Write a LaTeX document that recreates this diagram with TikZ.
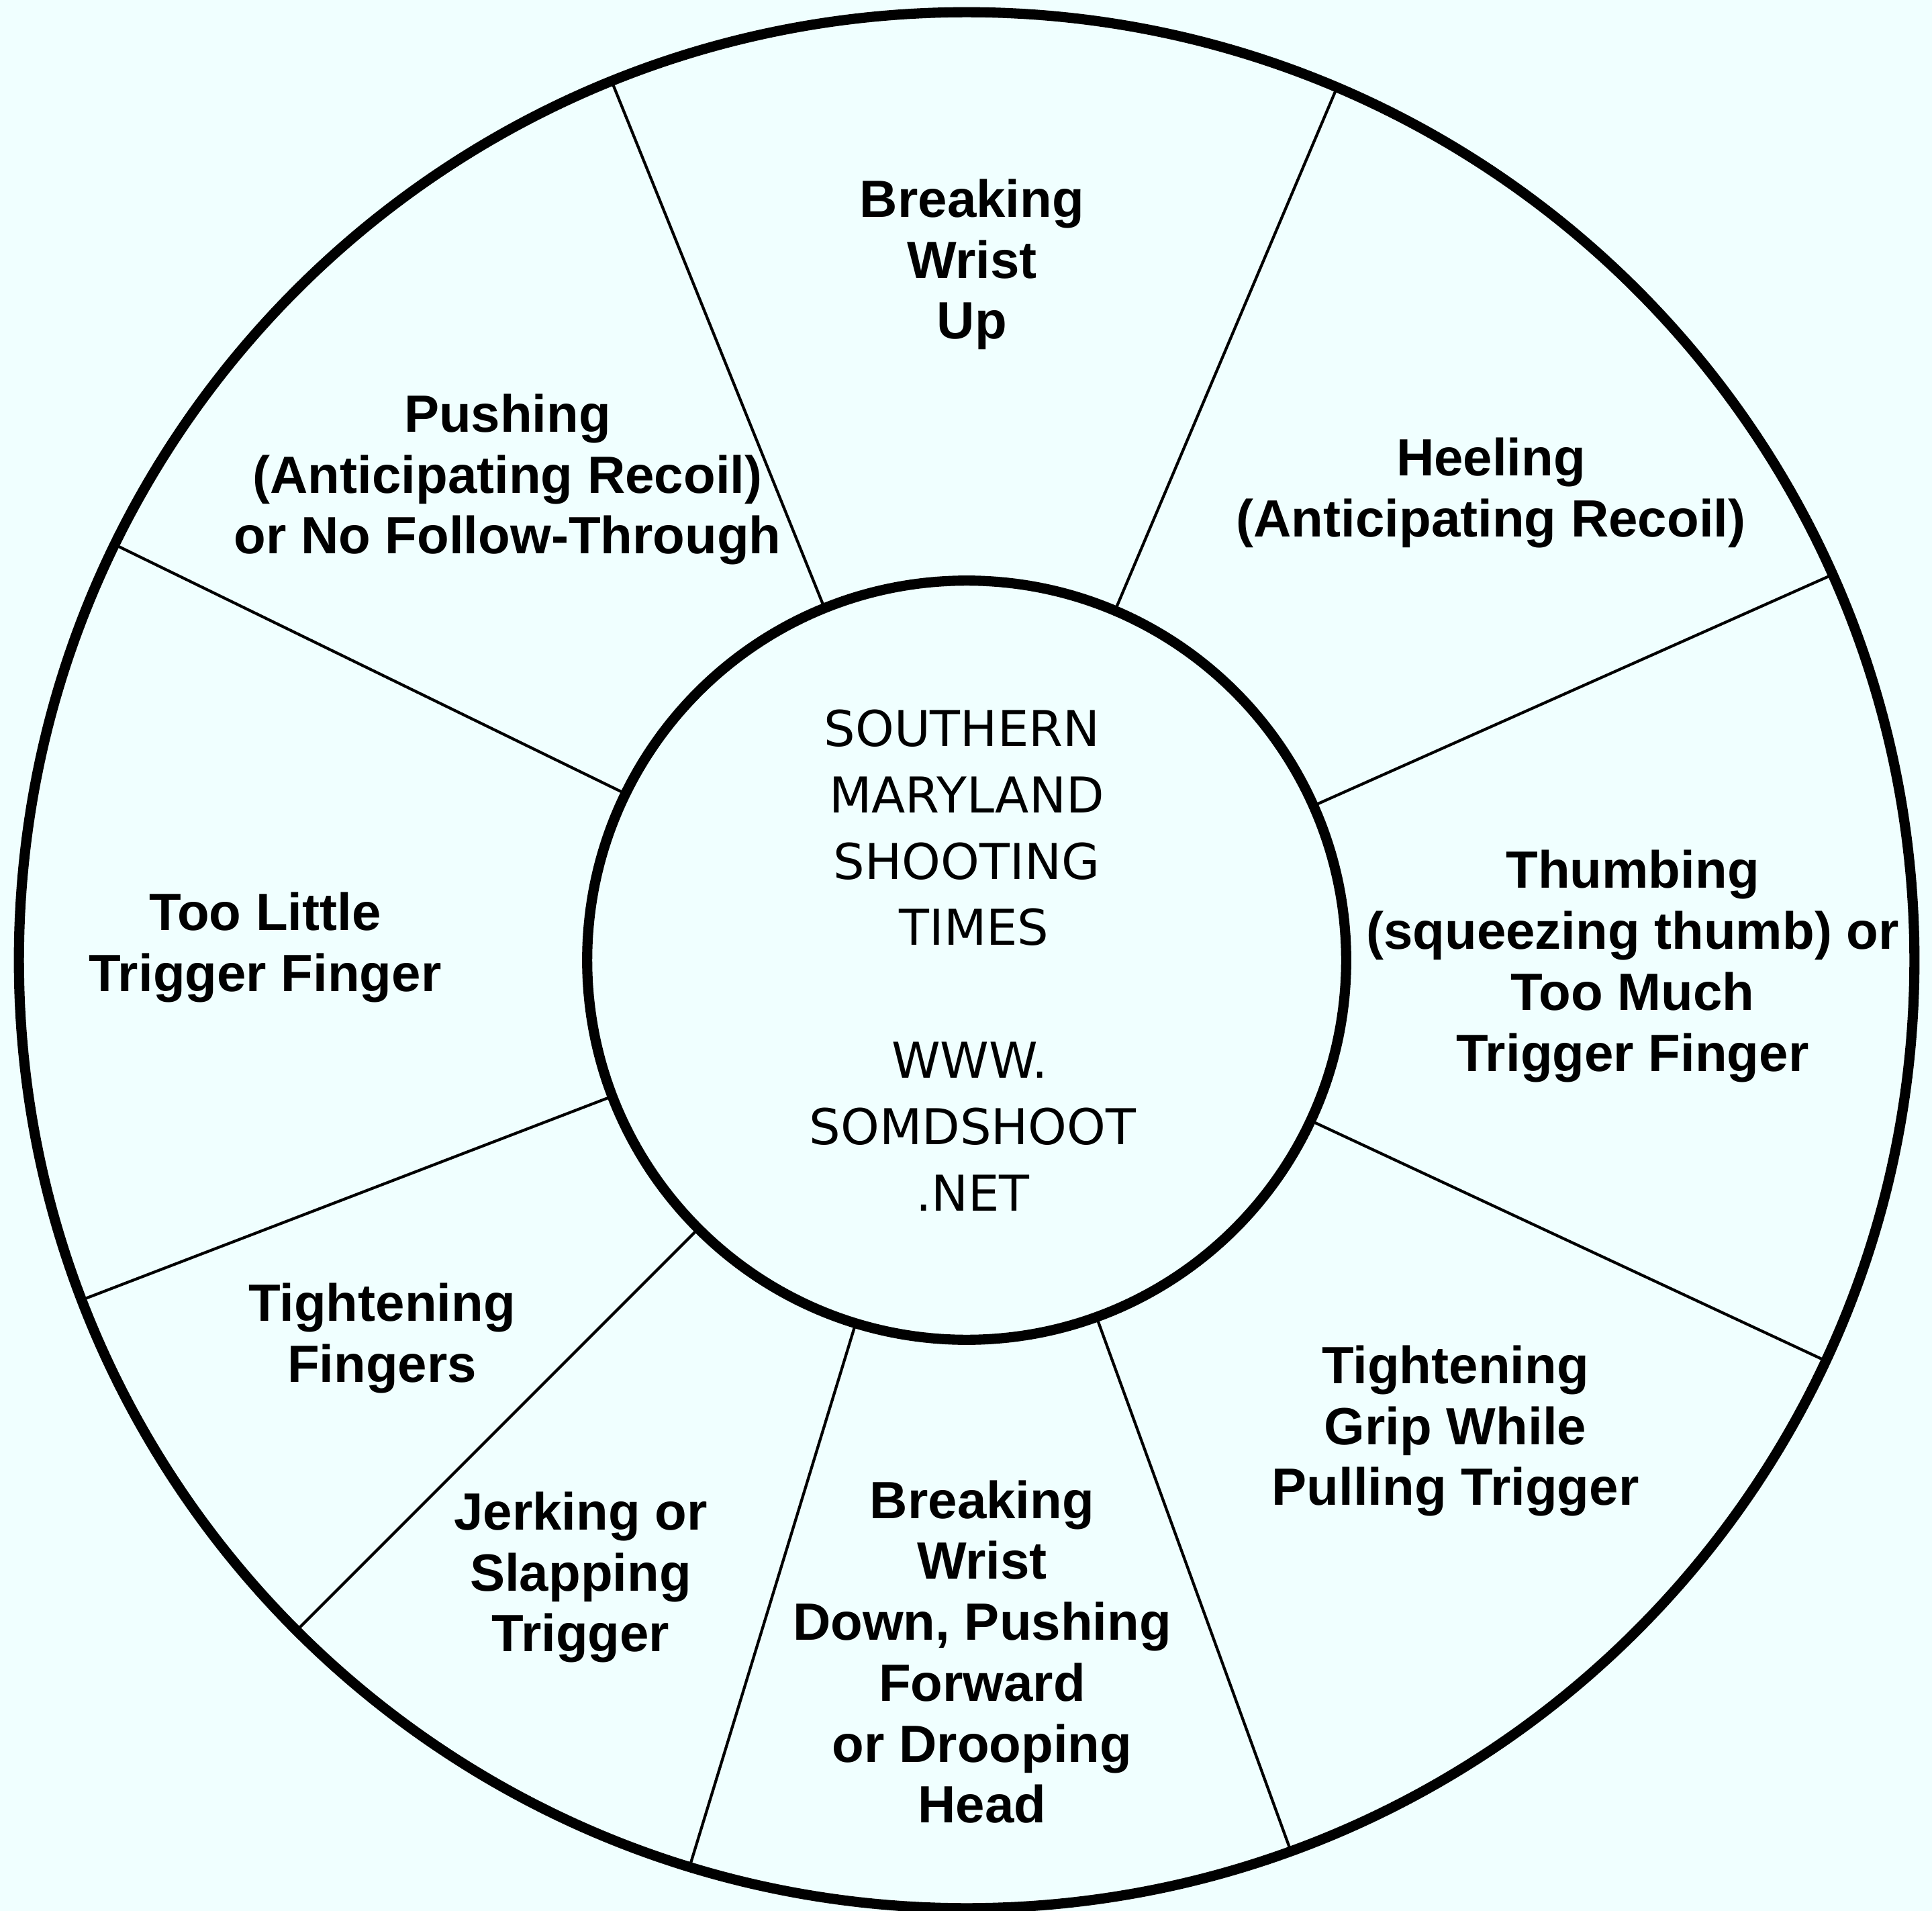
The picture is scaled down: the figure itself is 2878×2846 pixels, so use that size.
\documentclass[tikz,border=0pt]{standalone}
\usepackage{fontspec}
\setmainfont{Liberation Sans}
\newfontfamily\ctrfont{DejaVu Sans}
\definecolor{bg}{HTML}{F0FFFF}
\begin{document}
\begin{tikzpicture}[x=0.01cm,y=-0.01cm,
  lbl/.style={font=\fontsize{22.2}{25.8}\selectfont\bfseries, align=center, inner sep=0pt, yshift=-0.07cm},
  ring/.style={circle, draw=black, line width=4.3pt, inner sep=0pt, outer sep=0pt},
  divider/.style={line width=1.2pt}]
\fill[bg] (0,0) rectangle (2878,2846);
\useasboundingbox (0,0) rectangle (2878,2846);
\node[ring, minimum size=28.22cm] (outer) at (1440,1430) {};
\node[ring, minimum size=11.3cm, font=\ctrfont\fontsize{20.9}{28.1}\selectfont, align=center] (hub) at (1440,1430)
  {SOUTHERN\hspace*{0.14cm}\\MARYLAND\hspace*{0.14cm}\\SHOOTING\hspace*{0.14cm}\\\hspace*{0.22cm}TIMES\\[28.1pt]\hspace*{0.09cm}WWW.\\\hspace*{0.18cm}SOMDSHOOT\\\hspace*{0.18cm}.NET};
\foreach \a in {112.6,67.2,24.8,-25.9,-70.8,-107.5,-135.9,-159.9,154.6}
  \draw[divider] (hub.\a) -- (outer.\a);
\node[lbl] (bwu) at (1448,387) {Breaking\\Wrist\\Up};
\node[lbl] (heel) at (2221,727) {Heeling\\(Anticipating Recoil)};
\node[lbl] (push) at (756,707) {Pushing\\(Anticipating Recoil)\\or No Follow-Through};
\node[lbl] (little) at (395,1404) {Too Little\\Trigger Finger};
\node[lbl] (thumb) at (2432,1432) {Thumbing\\(squeezing thumb) or\\Too Much\\Trigger Finger};
\node[lbl] (tfing) at (569,1986) {Tightening\\Fingers};
\node[lbl] (jerk) at (865,2342) {Jerking or\\Slapping\\Trigger};
\node[lbl, yshift=0.05cm] (bwd) at (1463,2458) {Breaking\\Wrist\\Down, Pushing\\Forward\\or Drooping\\Head};
\node[lbl] (tgrip) at (2168,2124) {Tightening\\Grip While\\Pulling Trigger};
\end{tikzpicture}
\end{document}
